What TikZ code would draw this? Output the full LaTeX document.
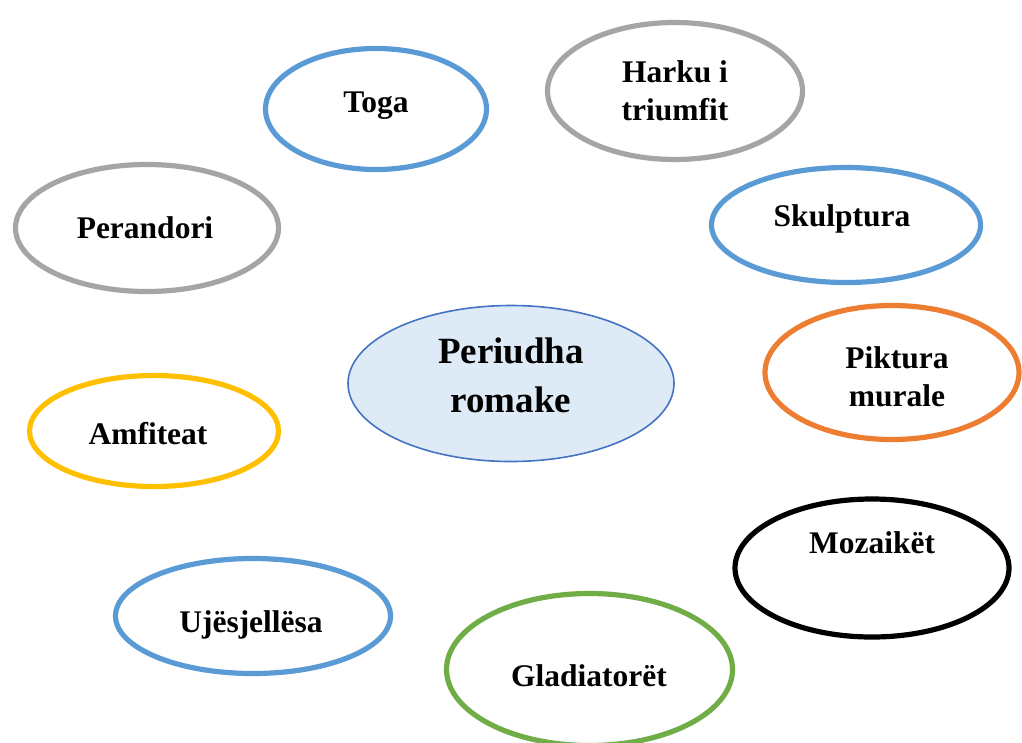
\documentclass[tikz,border=0pt]{standalone}
\usepackage{fontspec}
\setmainfont{Liberation Serif}
\usetikzlibrary{shapes.geometric}
\definecolor{cblue}{HTML}{5B9BD5}
\definecolor{cgray}{HTML}{A5A5A5}
\definecolor{corange}{HTML}{ED7D31}
\definecolor{cyellow}{HTML}{FFC000}
\definecolor{cgreen}{HTML}{70AD47}
\definecolor{cfill}{HTML}{DEEBF7}
\definecolor{cedge}{HTML}{4472C4}
\tikzset{
  oval/.style={ellipse, draw=#1, line width=5.2pt, inner sep=0pt},
  lbl/.style={font=\bfseries\fontsize{31.5}{38}\selectfont, inner sep=0pt, align=center},
  biglbl/.style={font=\bfseries\fontsize{37}{49}\selectfont, inner sep=0pt, align=center}
}
\begin{document}
\begin{tikzpicture}[x=1pt,y=-1pt]
\clip (0,0) rectangle (1022,742);
\fill[white] (0,0) rectangle (1022,742);
% ellipses
\node[oval=cblue, minimum width=221pt, minimum height=121pt] (toga) at (376,109) {};
\node[oval=cgray, minimum width=255pt, minimum height=137pt] (harku) at (675,91) {};
\node[oval=cgray, minimum width=263pt, minimum height=127pt] (perandori) at (147,228) {};
\node[oval=cblue, minimum width=269pt, minimum height=115pt] (skulptura) at (846,225) {};
\node[ellipse, draw=cedge, fill=cfill, line width=1.6pt, inner sep=0pt, minimum width=326pt, minimum height=156pt] (center) at (511,383.5) {};
\node[oval=corange, minimum width=254pt, minimum height=134pt] (piktura) at (892,372.5) {};
\node[oval=cyellow, minimum width=249pt, minimum height=111pt] (amfiteat) at (154,431) {};
\node[oval=black, minimum width=274pt, minimum height=138pt] (mozaiket) at (872,568) {};
\node[oval=cblue, minimum width=275pt, minimum height=115pt] (ujesjellesa) at (253,616) {};
\node[oval=cgreen, minimum width=286pt, minimum height=152pt] (gladiatoret) at (589.5,669.5) {};
% labels
\node[lbl, anchor=base] (tTog) at (376,112) {Toga};
\node[lbl, anchor=north] (tHar) at (675,60) {Harku i\\triumfit};
\node[lbl, anchor=base] (tPer) at (145,238) {Perandori};
\node[lbl, anchor=base] (tSku) at (842,226) {Skulptura};
\node[biglbl, anchor=north] (tCen) at (511,338) {Periudha\\romake};
\node[lbl, anchor=north] (tPik) at (897,346) {Piktura\\murale};
\node[lbl, anchor=base] (tAmf) at (148,444) {Amfiteat};
\node[lbl, anchor=base] (tMoz) at (872,553) {Mozaikët};
\node[lbl, anchor=base] (tUje) at (251,632) {Ujësjellësa};
\node[lbl, anchor=base] (tGla) at (589,686) {Gladiatorët};
\end{tikzpicture}
\end{document}
